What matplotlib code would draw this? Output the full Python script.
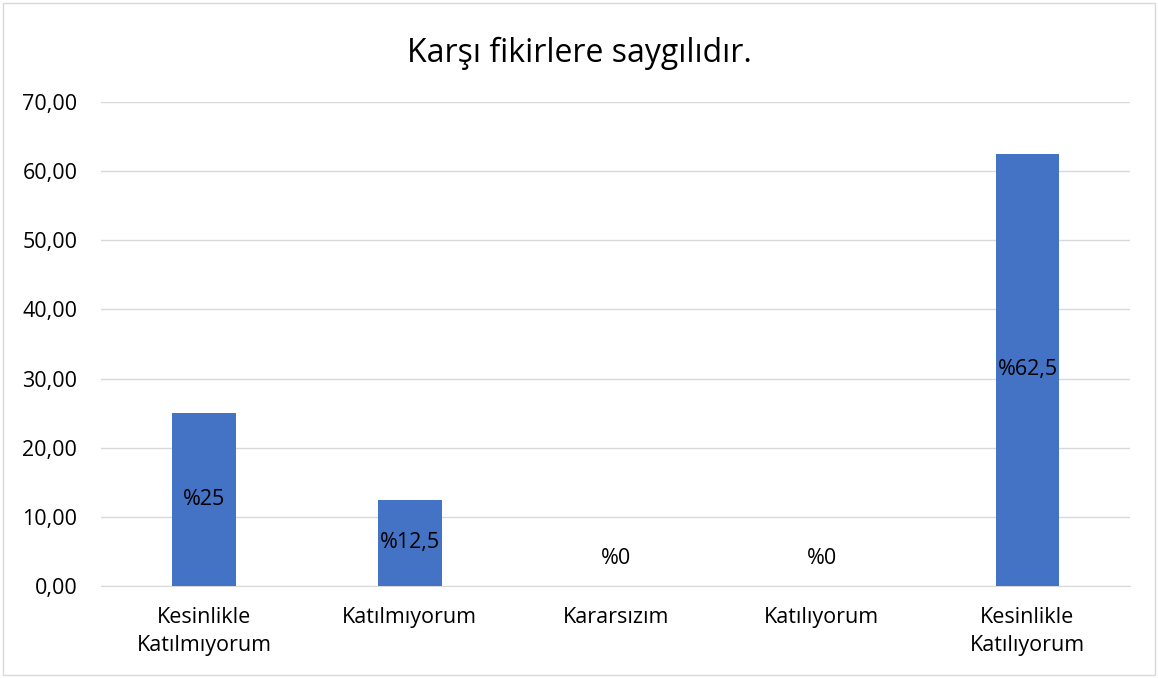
import matplotlib.pyplot as plt
from matplotlib.patches import Rectangle

plt.rcParams['font.family'] = ['Open Sans', 'DejaVu Sans']

# Veriler
kategoriler = ["Kesinlikle\nKatılmıyorum", "Katılmıyorum", "Kararsızım",
               "Katılıyorum", "Kesinlikle\nKatılıyorum"]
yuzdeler = [25, 12.5, 0, 0, 62.5]
etiketler = ["%25", "%12,5", "%0", "%0", "%62,5"]
y_ticks = [0, 10, 20, 30, 40, 50, 60, 70]

fig = plt.figure(figsize=(11.58, 6.78), dpi=100)
ax = fig.add_axes([0.0872, 0.1357, 0.889, 0.7139])

x = range(len(kategoriler))
ax.bar(x, yuzdeler, width=0.31, color="#4472C4", zorder=3)

for i, (v, lab) in enumerate(zip(yuzdeler, etiketler)):
    ypos = v / 2 if v > 0 else 4.0
    ax.text(i, ypos, lab, ha="center", va="center", fontsize=15.5, color="black", zorder=4)

ax.set_xlim(-0.5, len(kategoriler) - 0.5)
ax.set_ylim(0, 70)
ax.set_yticks(y_ticks)
ax.set_yticklabels([f"{t:.2f}".replace(".", ",") for t in y_ticks], fontsize=15.5)
ax.set_xticks(list(x))
ax.set_xticklabels(kategoriler, fontsize=15.5, linespacing=1.45)
ax.tick_params(axis="y", length=0, pad=17)
ax.tick_params(axis="x", length=0, pad=15)
ax.grid(axis="y", color="#D9D9D9", linewidth=1, zorder=0)
for s in ["top", "right", "left"]:
    ax.spines[s].set_visible(False)
ax.spines["bottom"].set_color("#D9D9D9")

fig.text(0.5, 0.922, "Karşı fikirlere saygılıdır.", ha="center", va="center", fontsize=23)

fig.patches.append(Rectangle((0.003, 0.004), 0.994, 0.992, transform=fig.transFigure,
                             fill=False, edgecolor="#D9D9D9", linewidth=1))

fig.savefig("out.png", dpi=100)
